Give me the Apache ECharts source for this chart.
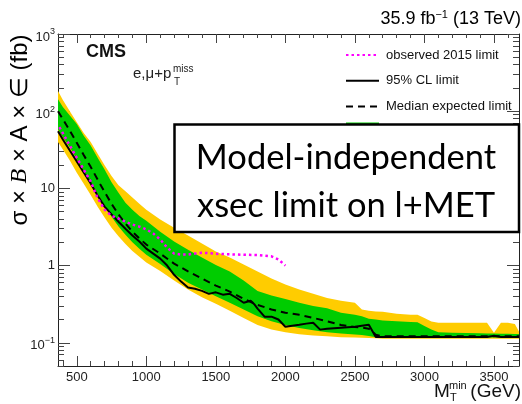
<!DOCTYPE html>
<html>
<head>
<meta charset="utf-8">
<script src="https://cdn.jsdelivr.net/npm/echarts@6/dist/echarts.min.js"></script>
<style>
  html, body { margin: 0; padding: 0; background: #fff; }
  #chart { width: 522px; height: 404px; }
</style>
</head>
<body>
<div id="chart"></div>
<script>
// Transverse-mass thresholds (GeV) for the expected-limit bands
const bandMass = [365, 400, 450, 500, 550, 600, 650, 700, 750, 800, 850, 900, 950, 1000,
  1100, 1200, 1300, 1400, 1500, 1600, 1700, 1800, 1900, 2000, 2100, 2200, 2300, 2400,
  2500, 2550, 2600, 2650, 2700, 2800, 2900, 2950, 3000, 3050, 3100, 3200, 3300, 3400,
  3450, 3500, 3550, 3600, 3650, 3680];

// Expected limit (fb): median, +-1 s.d., +-2 s.d.
const expMedian = [100, 79, 56, 39, 27, 19, 13, 9.0, 6.3, 4.6, 3.5, 2.75, 2.25, 1.87,
  1.43, 1.06, 0.84, 0.68, 0.55, 0.46, 0.37, 0.31, 0.27, 0.245, 0.23, 0.21, 0.19, 0.17,
  0.16, 0.157, 0.152, 0.127, 0.121, 0.121, 0.121, 0.121, 0.121, 0.121, 0.121, 0.121, 0.121, 0.121,
  0.121, 0.121, 0.121, 0.121, 0.121, 0.121];
const expPlus1 = [143, 113, 88, 68, 48, 36, 25, 17.5, 12, 8.8, 6.5, 5.3, 4.4, 3.8,
  2.75, 2.05, 1.6, 1.27, 1.02, 0.84, 0.64, 0.47, 0.41, 0.37, 0.33, 0.30, 0.28, 0.245,
  0.231, 0.22, 0.205, 0.2, 0.194, 0.19, 0.186, 0.184, 0.165, 0.148, 0.137, 0.135, 0.134, 0.133,
  0.132, 0.132, 0.131, 0.131, 0.13, 0.13];
const expMinus1 = [58, 46, 34, 24, 17, 12, 8.6, 6.0, 4.3, 3.2, 2.5, 2.0, 1.65, 1.38,
  1.05, 0.78, 0.6, 0.49, 0.4, 0.33, 0.27, 0.22, 0.19, 0.17, 0.155, 0.145, 0.137, 0.132,
  0.128, 0.126, 0.122, 0.118, 0.117, 0.117, 0.117, 0.117, 0.117, 0.117, 0.117, 0.117, 0.117, 0.117,
  0.117, 0.117, 0.117, 0.117, 0.117, 0.117];
const expPlus2 = [182, 140, 100, 72, 52, 40, 28, 20, 14.5, 11, 9.2, 7.6, 6.3, 5.3,
  3.95, 3.1, 2.45, 1.93, 1.52, 1.27, 1.03, 0.84, 0.68, 0.57, 0.49, 0.43, 0.38, 0.35,
  0.33, 0.27, 0.26, 0.255, 0.253, 0.237, 0.231, 0.231, 0.21, 0.188, 0.182, 0.182, 0.182, 0.182,
  0.182, 0.135, 0.182, 0.182, 0.175, 0.14];
const expMinus2 = [40, 32, 23, 16, 11.5, 8.2, 5.8, 4.2, 3.1, 2.4, 1.9, 1.55, 1.3, 1.1,
  0.85, 0.64, 0.49, 0.39, 0.32, 0.26, 0.21, 0.17, 0.148, 0.137, 0.129, 0.124, 0.121, 0.118,
  0.117, 0.116, 0.115, 0.114, 0.113, 0.113, 0.113, 0.113, 0.113, 0.113, 0.113, 0.113, 0.113, 0.113,
  0.113, 0.113, 0.113, 0.113, 0.113, 0.113];

// Observed 95% CL limit (fb)
const obsMass = [365, 400, 450, 500, 550, 600, 650, 700, 750, 800, 850, 900, 950, 1000,
  1050, 1100, 1150, 1200, 1250, 1300, 1350, 1400, 1450, 1500, 1550, 1600, 1650, 1700,
  1750, 1780, 1800, 1850, 1900, 1950, 2000, 2050, 2100, 2150, 2200, 2250, 2300, 2400,
  2500, 2550, 2600, 2650, 3450, 3500, 3550, 3680];
const obsLimit = [55, 43, 31, 22.4, 16.1, 11.6, 8.1, 5.8, 4.6, 3.7, 3.0, 2.45, 2.05, 1.66,
  1.43, 1.23, 1.0, 0.76, 0.62, 0.52, 0.50, 0.47, 0.43, 0.45, 0.42, 0.43, 0.38, 0.33,
  0.35, 0.31, 0.277, 0.218, 0.218, 0.20, 0.161, 0.166, 0.171, 0.177, 0.182, 0.148, 0.152, 0.157,
  0.161, 0.166, 0.171, 0.119, 0.119, 0.123, 0.119, 0.119];

// Observed 2015 limit (fb)
const obs2015Mass = [375, 450, 500, 550, 600, 650, 700, 750, 800, 850, 900, 950, 1000,
  1050, 1100, 1150, 1200, 1250, 1300, 1350, 1400, 1500, 1600, 1700, 1800, 1900, 1950, 2000];
const obs2015Limit = [62, 36, 25, 17.5, 12.3, 7.5, 5.3, 4.4, 4.07, 3.7, 3.4, 3.2, 2.94,
  2.6, 2.18, 1.71, 1.43, 1.39, 1.39, 1.43, 1.47, 1.42, 1.40, 1.38, 1.37, 1.32, 1.2, 1.0];

// Axis ticks and labels
const xTickValues = [500, 1000, 1500, 2000, 2500, 3000, 3500];
const xMinorValues = [400, 500, 600, 700, 800, 900, 1000, 1100, 1200, 1300, 1400, 1500, 1600,
  1700, 1800, 1900, 2000, 2100, 2200, 2300, 2400, 2500, 2600, 2700, 2800, 2900, 3000, 3100,
  3200, 3300, 3400, 3500, 3600];
const yTickValues = [0.1, 1, 10, 100, 1000];
const yTickExponents = [-1, 0, 1, 2, 3];
const yMinorValues = [];
[0.01, 0.1, 1, 10, 100].forEach(d => {
  for (let k = 2; k <= 9; k++) {
    const v = +(k * d).toPrecision(3);
    if (v >= 0.05 && v <= 1000) yMinorValues.push(v);
  }
});

const FONT = '"Liberation Sans", Arial, Helvetica, sans-serif';
const X_MIN = 365, X_MAX = 3680, Y_MIN = 0.05, Y_MAX = 1000;

const pairs = (xs, ys) => xs.map((x, i) => [x, ys[i]]);

// Filled band between two limit curves, drawn as one polygon in data space
function bandSeries(name, lower, upper, color, z) {
  const rows = bandMass.map((m, i) => [m, lower[i], upper[i]]);
  return {
    name: name,
    type: 'custom',
    xAxisIndex: 0,
    yAxisIndex: 0,
    clip: true,
    z: z,
    silent: true,
    itemStyle: { color: color },
    encode: { x: 0, y: [1, 2] },
    data: rows,
    renderItem: function (params, api) {
      if (params.dataIndex !== 0) return null;
      const top = rows.map(r => api.coord([r[0], r[2]]));
      const bottom = rows.map(r => api.coord([r[0], r[1]])).reverse();
      return {
        type: 'polygon',
        shape: { points: top.concat(bottom) },
        style: { fill: color, stroke: null }
      };
    }
  };
}

function xAxisDef(position, major) {
  return {
    type: 'value', min: X_MIN, max: X_MAX, position: position,
    splitLine: { show: false },
    axisLine: { show: major, onZero: false, lineStyle: { color: '#222', width: 1 } },
    axisTick: {
      show: true, inside: true,
      length: major ? (position === 'bottom' ? 10 : 9) : (position === 'bottom' ? 5 : 4),
      customValues: major ? xTickValues : xMinorValues,
      lineStyle: { color: '#444', width: 1 }
    },
    axisLabel: (position === 'bottom' && major) ? {
      show: true, customValues: xTickValues, margin: 5,
      formatter: v => String(Math.round(v)),
      fontSize: 13, fontFamily: FONT, color: '#222'
    } : { show: false }
  };
}

function yAxisDef(position, major) {
  return {
    type: 'log', logBase: 10, min: Y_MIN, max: Y_MAX, position: position,
    splitLine: { show: false },
    axisLine: { show: major, onZero: false, lineStyle: { color: '#222', width: 1 } },
    axisTick: {
      show: true, inside: true,
      length: major ? 12 : 6,
      customValues: major ? yTickValues : yMinorValues,
      lineStyle: { color: '#444', width: 1 }
    },
    axisLabel: (position === 'left' && major) ? {
      show: true, customValues: yTickValues, margin: 3,
      formatter: function (v) {
        const e = Math.round(Math.log10(v));
        const exp = yTickExponents[yTickExponents.indexOf(e)];
        if (exp === 0) return '{p|1}';
        if (exp === 1) return '{p|10}';
        return '{b|10}{s|' + (exp < 0 ? '\u2212' + (-exp) : exp) + '}';
      },
      rich: {
        p: { fontSize: 13, fontFamily: FONT, color: '#222' },
        b: { fontSize: 13, lineHeight: 13, padding: [6, 0, 0, 0], fontFamily: FONT, color: '#222' },
        s: { fontSize: 9, lineHeight: 9, padding: [3, 0, 7, 0], fontFamily: FONT, color: '#222' }
      }
    } : { show: false }
  };
}

const chart = echarts.init(document.getElementById('chart'), null, { renderer: 'canvas' });

const option = {
  animation: false,
  backgroundColor: '#fff',
  grid: { left: 58, right: 3, top: 34, bottom: 38, containLabel: false },
  xAxis: [
    xAxisDef('bottom', true), xAxisDef('bottom', false),
    xAxisDef('top', true), xAxisDef('top', false)
  ],
  yAxis: [
    yAxisDef('left', true), yAxisDef('left', false),
    yAxisDef('right', true), yAxisDef('right', false)
  ],
  legend: {
    orient: 'vertical', left: 345, top: 45, padding: 0,
    itemWidth: 33, itemHeight: 20, itemGap: 5.8,
    itemStyle: { opacity: 0 },
    textStyle: { fontFamily: FONT, fontSize: 13, color: '#111', lineHeight: 20, padding: [0, 0, 0, 2] },
    data: [
      { name: 'observed 2015 limit' },
      { name: '95% CL limit' },
      { name: 'Median expected limit' },
      { name: 'Expected \u00b1 1 s.d.', icon: 'rect', itemStyle: { opacity: 1 } }
    ]
  },
  series: [
    bandSeries('Expected \u00b1 2 s.d.', expMinus2, expPlus2, '#ffcc00', 1),
    bandSeries('Expected \u00b1 1 s.d.', expMinus1, expPlus1, '#00cc00', 2),
    {
      name: 'Median expected limit', type: 'line', z: 3,
      data: pairs(bandMass, expMedian),
      symbol: 'none', clip: true,
      lineStyle: { color: '#000', width: 2, type: [7, 5] },
      itemStyle: { color: '#000' }
    },
    {
      name: '95% CL limit', type: 'line', z: 4,
      data: pairs(obsMass, obsLimit),
      symbol: 'none', clip: true,
      lineStyle: { color: '#000', width: 2, type: 'solid' },
      itemStyle: { color: '#000' }
    },
    {
      name: 'observed 2015 limit', type: 'line', z: 5,
      data: pairs(obs2015Mass, obs2015Limit),
      symbol: 'none', clip: true,
      lineStyle: { color: '#ff00ff', width: 2.5, type: [2.5, 3] },
      itemStyle: { color: '#ff00ff' }
    }
  ],
  graphic: [
    {
      type: 'text', x: 521, y: 19, z: 50,
      style: {
        text: '{a|35.9 fb}{s|\u22121}{a| (13 TeV)}',
        align: 'right', verticalAlign: 'middle',
        rich: {
          a: { fontSize: 18, fontFamily: FONT, color: '#111' },
          s: { fontSize: 11, fontFamily: FONT, color: '#111', padding: [0, 0, 8, 0] }
        }
      }
    },
    {
      type: 'text', x: 86, y: 52, z: 50,
      style: { text: 'CMS', font: 'bold 18px ' + FONT, fill: '#111', verticalAlign: 'middle' }
    },
    {
      type: 'text', x: 133, y: 74, z: 50,
      style: { text: 'e,\u03bc+p', font: '15px ' + FONT, fill: '#222', verticalAlign: 'middle' }
    },
    {
      type: 'text', x: 173, y: 69, z: 50,
      style: { text: 'miss', font: '10px ' + FONT, fill: '#222', verticalAlign: 'middle' }
    },
    {
      type: 'text', x: 174, y: 82, z: 50,
      style: { text: 'T', font: '10px ' + FONT, fill: '#222', verticalAlign: 'middle' }
    },
    {
      type: 'text', x: 20, y: 130, rotation: Math.PI / 2, z: 50,
      style: {
        text: '{a|\u03c3 \u00d7 }{i|B}{a| \u00d7 A \u00d7 \u2208 (fb)}',
        align: 'center', verticalAlign: 'middle',
        rich: {
          a: { fontSize: 24, fontFamily: FONT, color: '#111' },
          i: { fontSize: 24, fontFamily: '"Liberation Serif", serif', fontStyle: 'italic', color: '#111' }
        }
      }
    },
    {
      type: 'text', x: 434, y: 392, z: 50,
      style: { text: 'M', font: '19px ' + FONT, fill: '#111', verticalAlign: 'middle' }
    },
    {
      type: 'text', x: 449, y: 386, z: 50,
      style: { text: 'min', font: '11px ' + FONT, fill: '#111', verticalAlign: 'middle' }
    },
    {
      type: 'text', x: 450, y: 398, z: 50,
      style: { text: 'T', font: '11px ' + FONT, fill: '#111', verticalAlign: 'middle' }
    },
    {
      type: 'text', x: 521, y: 392, z: 50,
      style: { text: '(GeV)', font: '19px ' + FONT, fill: '#111', align: 'right', verticalAlign: 'middle' }
    },
    {
      type: 'rect', z: 100,
      shape: { x: 174.5, y: 124.5, width: 344.5, height: 107.5 },
      style: { fill: '#fff', stroke: '#000', lineWidth: 2.5 }
    },
    {
      type: 'text', x: 346, y: 158, z: 101,
      style: { text: 'Model-independent', font: '34.5px Lato, "Open Sans", sans-serif', fill: '#000', align: 'center', verticalAlign: 'middle' }
    },
    {
      type: 'text', x: 346, y: 206, z: 101,
      style: { text: 'xsec limit on l+MET', font: '34.5px Lato, "Open Sans", sans-serif', fill: '#000', align: 'center', verticalAlign: 'middle' }
    }
  ]
};

chart.setOption(option);
</script>
</body>
</html>
